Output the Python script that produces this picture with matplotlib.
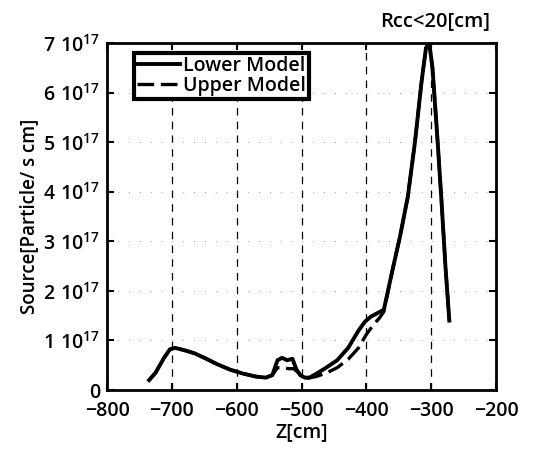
import numpy as np
import matplotlib.pyplot as plt
from matplotlib.ticker import FixedLocator, FixedFormatter

# Lower model (solid)
z_lower = [-735, -725, -712, -703, -695, -680, -665, -650, -630, -610, -590, -570,
           -555, -545, -537, -530, -522, -514, -508, -502, -495, -488, -478, -462,
           -445, -428, -412, -402, -393, -383, -373, -360, -348, -336, -325, -315,
           -308, -303, -298, -291, -284, -278, -272]
s_lower = [0.20, 0.35, 0.65, 0.82, 0.85, 0.80, 0.74, 0.65, 0.52, 0.41, 0.33, 0.27,
           0.25, 0.30, 0.60, 0.65, 0.60, 0.63, 0.42, 0.30, 0.25, 0.25, 0.32, 0.45,
           0.60, 0.85, 1.20, 1.38, 1.48, 1.55, 1.62, 2.40, 3.10, 3.90, 5.00, 6.20,
           6.90, 7.00, 6.50, 5.20, 3.80, 2.50, 1.40]

# Upper model (dashed)
z_upper = [-735, -725, -712, -703, -695, -680, -665, -650, -630, -610, -590, -570,
           -555, -545, -537, -528, -520, -512, -505, -498, -490, -478, -462,
           -445, -428, -412, -400, -390, -380, -373, -360, -348, -336, -325, -315,
           -308, -303, -298, -291, -284, -278, -272]
s_upper = [0.20, 0.35, 0.65, 0.82, 0.85, 0.80, 0.74, 0.65, 0.52, 0.41, 0.33, 0.27,
           0.25, 0.30, 0.45, 0.45, 0.43, 0.43, 0.35, 0.27, 0.24, 0.27, 0.34,
           0.45, 0.62, 0.85, 1.12, 1.30, 1.45, 1.58, 2.40, 3.10, 3.90, 5.00, 6.20,
           6.90, 7.00, 6.50, 5.20, 3.80, 2.50, 1.40]

y_ticks = [0, 1, 2, 3, 4, 5, 6, 7]
y_labels = ['0'] + [r'$%d\ 10^{17}$' % v for v in y_ticks[1:]]
x_ticks = [-800, -700, -600, -500, -400, -300, -200]

plt.rcParams['font.family'] = 'Open Sans'
plt.rcParams['font.weight'] = 'semibold'
plt.rcParams['axes.titleweight'] = 'semibold'
plt.rcParams['axes.labelweight'] = 'semibold'
plt.rcParams['mathtext.fontset'] = 'custom'
plt.rcParams['mathtext.rm'] = 'Open Sans:semibold'
plt.rcParams['mathtext.it'] = 'Open Sans:semibold'

fig = plt.figure(figsize=(5.57, 4.5), dpi=100)
ax = fig.add_axes([107/557, 60/450, 389/557, 347/450])

ax.plot(z_lower, s_lower, color='black', lw=2.8, label='Lower Model')
ax.plot(z_upper, s_upper, color='black', lw=2.4, ls=(0, (5, 2)), label='Upper Model')

ax.set_xlim(-800, -200)
ax.set_ylim(0, 7)
ax.xaxis.set_major_locator(FixedLocator(x_ticks))
ax.yaxis.set_major_locator(FixedLocator(y_ticks))
ax.yaxis.set_major_formatter(FixedFormatter(y_labels))

for x in x_ticks[1:-1]:
    ax.axvline(x, color='black', lw=0.9, ls=(0, (6, 5)), zorder=0)
for y in y_ticks[1:-1]:
    ax.axhline(y, color='gray', lw=0.6, ls=(0, (1, 12)), zorder=0)

ax.tick_params(direction='in', top=True, right=True, length=5, width=1.5,
               labelsize=14)
ax.tick_params(axis='x', pad=8)
ax.tick_params(axis='y', pad=5)
for sp in ax.spines.values():
    sp.set_linewidth(2)

ax.set_xlabel('Z[cm]', fontsize=14, labelpad=1)
ax.set_ylabel('Source[Particle/ s cm]', fontsize=13.5, labelpad=3)
ax.set_title('Rcc<20[cm]', loc='right', fontsize=14.5, pad=12, x=0.985)

leg = ax.legend(loc='upper left', bbox_to_anchor=(0.045, 1.0), fontsize=14,
                handlelength=2.2, handletextpad=0.15, borderpad=0.15,
                labelspacing=0.0, fancybox=False, framealpha=1)
leg.get_frame().set_edgecolor('black')
leg.get_frame().set_linewidth(3)

fig.savefig('out.png', dpi=100)
